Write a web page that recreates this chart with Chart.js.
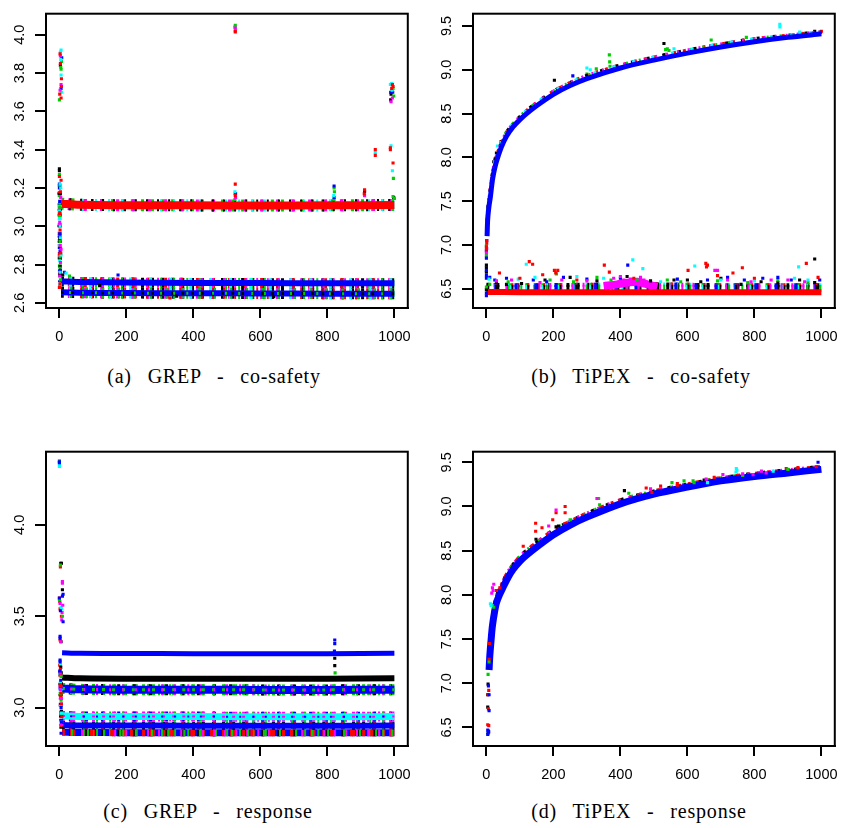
<!DOCTYPE html>
<html>
<head>
<meta charset="utf-8">
<script src="https://cdn.jsdelivr.net/npm/chart.js@4.4.1/dist/chart.umd.min.js"></script>
<style>
  body { margin: 0; background: #fff; width: 842px; height: 828px; position: relative; overflow: hidden; }
  .panel { position: absolute; width: 421px; height: 350px; }
  .cap { position: absolute; font-family: "Liberation Serif", "Times New Roman", serif; font-size: 20px;
         white-space: pre; transform: translateX(-50%); color: #000; letter-spacing: 0.8px; word-spacing: 10px; }
</style>
</head>
<body>
<div class="panel" style="left:0;top:0"><canvas id="ca" width="421" height="350"></canvas></div>
<div class="panel" style="left:427px;top:0"><canvas id="cb" width="421" height="350"></canvas></div>
<div class="panel" style="left:0;top:438px"><canvas id="cc" width="421" height="350"></canvas></div>
<div class="panel" style="left:427px;top:438px"><canvas id="cd" width="421" height="350"></canvas></div>
<div class="cap" style="left:214px;top:365px">(a) GREP - co-safety</div>
<div class="cap" style="left:641px;top:365px">(b) TiPEX - co-safety</div>
<div class="cap" style="left:208px;top:800px">(c) GREP - response</div>
<div class="cap" style="left:639px;top:800px">(d) TiPEX - response</div>
<script>
// ---- tick labels ----
const xTicks = [0, 200, 400, 600, 800, 1000];
const aYTicks = [2.6, 2.8, 3.0, 3.2, 3.4, 3.6, 3.8, 4.0];
const bYTicks = [6.5, 7.0, 7.5, 8.0, 8.5, 9.0, 9.5];
const cYTicks = [3.0, 3.5, 4.0];
const dYTicks = [6.5, 7.0, 7.5, 8.0, 8.5, 9.0, 9.5];

// ---- (a) GREP co-safety ----
const aBandX = [5, 60, 200, 400, 600, 800, 1000];
const aRedBandY = [3.118, 3.112, 3.110, 3.109, 3.108, 3.109, 3.111];
const aUpperBandY = [2.712, 2.709, 2.706, 2.704, 2.703, 2.702, 2.702];
const aLowerBandY = [2.655, 2.653, 2.651, 2.650, 2.649, 2.648, 2.648];
const aSpikeX = [1, 1, 2];
const aSpikeY = [3.22, 2.95, 2.68];

const aBlackX = [0, 0, 1, 2, 3, 3, 10, 525, 911, 990, 989, 998, 120, 350, 640];
const aBlackY = [3.30, 3.29, 2.93, 2.79, 2.75, 3.84, 2.745, 3.17, 3.18, 3.69, 3.66, 3.15, 2.69, 2.635, 2.632];
const aRedX = [2, 3, 6, 6, 1, 5, 0, 5, 3, 2, 4, 2, 1, 0, 525, 525, 525, 525, 911, 910, 943, 943, 994, 992, 996, 988, 988, 996, 330];
const aRedY = [3.90, 3.85, 3.77, 3.73, 3.69, 3.67, 3.26, 3.24, 3.18, 2.98, 2.86, 2.70, 3.07, 2.68, 4.02, 4.015, 3.22, 3.16, 3.19, 3.17, 3.40, 3.37, 3.74, 3.72, 3.73, 3.41, 3.40, 3.33, 2.625];
const aGreenX = [6, 4, 0, 5, 0, 1, 2, 1, 2, 3, 1, 2, 30, 525, 524, 524, 820, 821, 820, 996, 998, 993, 997, 996, 1000];
const aGreenY = [3.86, 3.83, 3.66, 3.82, 3.27, 3.05, 2.92, 3.12, 2.84, 2.72, 3.10, 2.78, 2.74, 4.05, 4.04, 3.14, 3.20, 3.18, 3.14, 3.72, 3.68, 3.71, 3.25, 3.155, 3.145];
const aBlueX = [7, 5, 0, 0, 2, 1, 3, 1, 15, 526, 820, 820, 995, 989, 175];
const aBlueY = [3.88, 3.72, 3.22, 3.20, 2.87, 2.96, 2.77, 3.13, 2.76, 3.17, 3.21, 3.15, 3.70, 3.70, 2.745];
const aCyanX = [5, 3, 4, 5, 7, 2, 4, 1, 2, 3, 5, 1, 0, 2, 20, 526, 524, 819, 943, 988, 992, 993, 990, 994];
const aCyanY = [3.92, 3.91, 3.87, 3.79, 3.70, 3.22, 3.20, 3.04, 3.00, 2.94, 2.85, 2.82, 3.08, 2.76, 2.755, 4.03, 3.18, 3.16, 3.385, 3.74, 3.745, 3.71, 3.42, 3.29];
const aMagX = [3, 5, 2, 4, 2, 3, 1, 5, 1, 525, 526, 911, 990, 994];
const aMagY = [3.89, 3.74, 3.71, 3.15, 2.90, 2.81, 2.74, 2.88, 3.02, 4.035, 3.15, 3.16, 3.65, 3.67];

// ---- (b) TiPEX co-safety ----
const bCurveX = [2, 4, 8, 12, 18, 25, 34, 45, 60, 80, 100, 120, 150, 200, 250, 300, 400, 500, 600, 700, 800, 900, 1000];
const bCurveY = [7.10, 7.30, 7.45, 7.55, 7.74, 7.88, 8.00, 8.12, 8.24, 8.35, 8.43, 8.50, 8.59, 8.72, 8.82, 8.90, 9.02, 9.11, 9.19, 9.26, 9.32, 9.37, 9.41];
const bUpperY = [7.16, 7.36, 7.51, 7.61, 7.79, 7.93, 8.05, 8.16, 8.28, 8.38, 8.46, 8.53, 8.62, 8.75, 8.85, 8.93, 9.05, 9.14, 9.22, 9.29, 9.35, 9.39, 9.43];
const bBandX = [0, 100, 300, 500, 700, 900, 1000];
const bFloorY = [6.463, 6.461, 6.460, 6.460, 6.460, 6.460, 6.461];
const bMixY = [6.505, 6.503, 6.505, 6.507, 6.505, 6.503, 6.503];
const bMix2Y = [6.545, 6.540, 6.545, 6.550, 6.540, 6.540, 6.540];
const bClumpX = [350, 390, 420, 450, 480, 510];
const bClumpY = [6.53, 6.55, 6.57, 6.58, 6.55, 6.52];

const bBlackX = [203, 530, 980, 26, 22, 44, 64, 30, 0, 0, 0, 0, 30, 60, 105, 175, 250, 330, 420, 490, 560, 600, 640, 700, 760, 820, 870, 935, 980, 980];
const bBlackY = [8.88, 9.30, 9.44, 7.98, 7.95, 8.18, 8.27, 8.05, 6.77, 6.74, 6.69, 6.49, 6.57, 6.55, 6.56, 6.60, 6.63, 6.59, 6.64, 6.59, 6.60, 6.60, 6.58, 6.62, 6.55, 6.58, 6.57, 6.60, 6.84, 6.57];
const bRedX = [1000, 998, 1, 1, 0, 0, 39, 100, 128, 138, 168, 203, 207, 213, 270, 352, 367, 440, 602, 655, 657, 660, 690, 736, 764, 800, 955, 990];
const bRedY = [9.44, 9.43, 7.02, 7.05, 6.98, 6.95, 6.68, 6.62, 6.81, 6.78, 6.66, 6.71, 6.68, 6.71, 6.60, 6.77, 6.69, 6.62, 6.71, 6.79, 6.75, 6.77, 6.65, 6.68, 6.74, 6.62, 6.79, 6.63];
const bGreenX = [328, 367, 368, 369, 535, 540, 545, 671, 776, 36, 40, 300, 0, 0, 0, 10, 65, 190, 209, 260, 330, 372, 450, 540, 580, 690, 780, 870, 960];
const bGreenY = [9.01, 9.17, 9.09, 9.04, 9.23, 9.24, 9.22, 9.34, 9.37, 8.07, 8.08, 8.95, 6.99, 6.88, 6.52, 6.55, 6.58, 6.60, 6.67, 6.58, 6.63, 6.60, 6.60, 6.60, 6.58, 6.59, 6.57, 6.60, 6.57];
const bBlueX = [258, 0, 0, 0, 0, 0, 0, 0, 1, 10, 25, 60, 140, 180, 230, 300, 400, 422, 570, 660, 720, 770, 825, 870, 910, 995];
const bBlueY = [8.93, 6.42, 6.45, 6.62, 6.65, 6.71, 6.85, 6.93, 7.05, 6.63, 6.60, 6.62, 6.60, 6.58, 6.63, 6.61, 6.62, 6.77, 6.61, 6.60, 6.63, 6.60, 6.62, 6.63, 6.60, 6.60];
const bCyanX = [300, 310, 560, 876, 876, 935, 940, 33, 8, 95, 119, 145, 270, 350, 437, 467, 520, 622, 700, 800, 920, 932, 960];
const bCyanY = [9.02, 9.00, 9.24, 9.52, 9.49, 9.43, 9.42, 8.13, 6.61, 6.61, 6.78, 6.63, 6.64, 6.62, 6.83, 6.73, 6.58, 6.76, 6.60, 6.59, 6.62, 6.75, 6.60];
const bMagX = [0, 1, 30, 75, 160, 225, 300, 380, 400, 410, 430, 460, 470, 682, 690, 720, 790, 850, 900, 950];
const bMagY = [6.91, 6.96, 6.59, 6.60, 6.57, 6.60, 6.59, 6.62, 6.64, 6.60, 6.61, 6.63, 6.60, 6.71, 6.71, 6.60, 6.58, 6.60, 6.60, 6.58];

// ---- (c) GREP response ----
const cBandX = [8, 60, 200, 400, 600, 800, 1000];
const cTopBlueBandY = [3.300, 3.297, 3.296, 3.295, 3.295, 3.295, 3.297];
const cBlackBandY = [3.165, 3.160, 3.158, 3.158, 3.158, 3.158, 3.160];
const cBlueBandY = [3.105, 3.100, 3.098, 3.098, 3.097, 3.097, 3.098];
const cCyanBandY = [2.955, 2.952, 2.951, 2.951, 2.950, 2.950, 2.951];
const cLowBlueBandY = [2.905, 2.902, 2.902, 2.901, 2.901, 2.901, 2.902];
const cMixBandY = [2.866, 2.864, 2.863, 2.863, 2.863, 2.863, 2.863];
const cSpikeX = [2, 4, 6];
const cSpikeY = [3.24, 3.05, 2.88];

const cBlackX = [4, 6, 9, 5, 4, 6, 6, 5, 822, 822];
const cBlackY = [3.79, 3.79, 3.645, 3.36, 3.22, 3.13, 2.98, 3.19, 3.27, 3.23];
const cRedX = [3, 0, 1, 6, 2, 2, 3, 4, 4, 5, 4, 6, 7];
const cRedY = [3.77, 3.60, 3.58, 3.50, 3.54, 3.37, 3.21, 3.18, 3.12, 3.08, 3.06, 3.02, 2.95];
const cGreenX = [0, 3, 0, 9, 5, 5, 823];
const cGreenY = [4.35, 3.78, 3.59, 3.50, 3.17, 3.04, 3.19];
const cBlueX = [0, 0, 11, 9, 0, 11, 3, 2, 2, 2, 2, 1, 4, 5, 6, 5, 822, 822, 821];
const cBlueY = [4.34, 4.345, 3.62, 3.61, 3.60, 3.47, 3.53, 3.39, 3.38, 3.26, 3.25, 3.20, 3.15, 3.00, 2.92, 2.86, 3.37, 3.35, 3.31];
const cCyanX = [0, 0, 5, 7, 3, 3, 6];
const cCyanY = [4.33, 4.32, 3.55, 3.54, 3.24, 3.14, 2.97];
const cMagX = [9, 9, 2, 10, 8, 7, 4, 2, 3, 6];
const cMagY = [3.69, 3.68, 3.57, 3.56, 3.52, 3.48, 3.36, 3.19, 3.10, 3.05];

// ---- (d) TiPEX response ----
const dCurveX = [8, 10, 12, 14, 18, 24, 30, 39, 49, 65, 80, 100, 120, 160, 200, 250, 300, 400, 500, 600, 700, 800, 900, 1000];
const dCurveY = [7.15, 7.30, 7.40, 7.49, 7.65, 7.80, 7.91, 8.00, 8.08, 8.20, 8.29, 8.38, 8.45, 8.57, 8.68, 8.79, 8.88, 9.03, 9.14, 9.22, 9.29, 9.34, 9.38, 9.42];
const dUpperY = [7.22, 7.37, 7.47, 7.56, 7.72, 7.87, 7.97, 8.06, 8.14, 8.26, 8.34, 8.43, 8.50, 8.62, 8.73, 8.83, 8.92, 9.07, 9.17, 9.25, 9.32, 9.37, 9.41, 9.45];

const dBlackX = [4, 4, 5, 7, 412, 650, 148, 208, 215];
const dBlackY = [6.73, 6.87, 6.99, 7.18, 9.18, 9.30, 8.63, 8.77, 8.78];
const dRedX = [4, 7, 6, 5, 7, 8, 9, 147, 147, 166, 198, 208, 235, 235, 477, 494, 520, 570, 570, 680, 895, 930, 985, 30, 40, 110];
const dRedY = [6.53, 6.52, 6.71, 6.87, 6.92, 7.27, 7.45, 8.81, 8.72, 8.76, 8.85, 8.93, 9.00, 8.93, 9.21, 9.16, 9.23, 9.26, 9.24, 9.33, 9.43, 9.44, 9.45, 8.05, 8.08, 8.55];
const dGreenX = [5, 5, 8, 335, 338, 425, 554, 590, 617, 620, 765, 900, 18, 22, 250];
const dGreenY = [6.43, 7.10, 7.24, 9.09, 9.02, 9.15, 9.27, 9.29, 9.29, 9.27, 9.35, 9.42, 7.88, 7.86, 8.85];
const dBlueX = [4, 5, 6, 4, 7, 8, 8, 6, 10, 990];
const dBlueY = [6.42, 6.44, 6.46, 6.47, 6.45, 6.69, 6.87, 6.97, 7.18, 9.50];
const dCyanX = [12, 14, 746, 748, 745, 856, 660];
const dCyanY = [7.90, 7.88, 9.43, 9.41, 9.39, 9.40, 9.27];
const dMagX = [16, 18, 22, 20, 186, 208, 330, 490, 656, 706, 796, 821, 835, 765];
const dMagY = [8.02, 8.08, 8.12, 8.05, 8.78, 8.96, 9.09, 9.20, 9.31, 9.36, 9.36, 9.40, 9.38, 9.37];

// ---- drawing helpers ----
const COL = { black: '#000000', red: '#ff0000', green: '#00cd00', blue: '#0000ff', cyan: '#00ffff', magenta: '#ff00ff' };
const DASHES = [[3, 7, 0], [2, 11, 5], [3, 13, 9], [2, 9, 3], [3, 17, 12], [2, 14, 7]];

function pts(xs, ys) { return xs.map((x, i) => ({ x: x, y: ys[i] })); }

function band(xs, ys, color, width) {
  return { data: pts(xs, ys), showLine: true, borderColor: color, borderWidth: width,
           pointRadius: 0, pointHoverRadius: 0, fill: false, tension: 0.3 };
}

// mottled band edge: several dashed strokes of mixed colours along the same row
function speckle(xs, ys, width, colors) {
  return colors.map((c, i) => {
    const d = DASHES[i % DASHES.length];
    return { data: pts(xs, ys), showLine: true, borderColor: COL[c], borderWidth: width,
             borderDash: [d[0], d[1]], borderDashOffset: d[2], borderCapStyle: 'butt',
             pointRadius: 0, pointHoverRadius: 0, fill: false, tension: 0.3 };
  });
}

function dots(xs, ys, color) {
  return { data: pts(xs, ys), showLine: false, backgroundColor: color, borderWidth: 0,
           pointStyle: 'rect', pointRadius: 2.2, pointHoverRadius: 2.2 };
}

const boxPlugin = {
  id: 'box',
  afterDraw(chart) {
    const a = chart.chartArea, c = chart.ctx;
    c.save();
    c.strokeStyle = '#000';
    c.lineWidth = 2;
    c.strokeRect(a.left, a.top, a.right - a.left, a.bottom - a.top);
    c.restore();
  }
};

const tickFont = { family: '"Liberation Sans", Arial, sans-serif', size: 14.5 };

function makePanel(id, yMin, yMax, yTicks, layers) {
  // layers are listed in paint order: first painted first
  layers.forEach((ds, i) => { ds.order = layers.length - i; });
  new Chart(document.getElementById(id), {
    type: 'scatter',
    data: { datasets: layers },
    options: {
      responsive: false,
      animation: false,
      devicePixelRatio: 1,
      events: [],
      layout: { padding: { top: 5, right: 13, left: 0, bottom: 0 } },
      plugins: { legend: { display: false }, tooltip: { enabled: false } },
      scales: {
        x: {
          type: 'linear', min: -40, max: 1040,
          afterBuildTicks: s => { s.ticks = xTicks.map(v => ({ value: v })); },
          afterFit: s => { s.height = 42; },
          grid: { drawOnChartArea: false, drawTicks: true, tickLength: 10, color: '#000', lineWidth: 2 },
          border: { display: true, color: '#000', width: 2 },
          ticks: { color: '#000', font: tickFont, padding: 10, autoSkip: false, maxRotation: 0,
                   callback: v => String(v) }
        },
        y: {
          type: 'linear', min: yMin, max: yMax,
          afterBuildTicks: s => { s.ticks = yTicks.map(v => ({ value: v })); },
          afterFit: s => { s.width = 46; },
          grid: { drawOnChartArea: false, drawTicks: true, tickLength: 11, color: '#000', lineWidth: 2 },
          border: { display: true, color: '#000', width: 2 },
          ticks: { color: '#000', font: tickFont, padding: 5, autoSkip: false, minRotation: 90, maxRotation: 90,
                   crossAlign: 'center', callback: v => v.toFixed(1) }
        }
      }
    },
    plugins: [boxPlugin]
  });
}

// (a)
makePanel('ca', 2.573, 4.11, aYTicks, [
  ...speckle(aBandX, aLowerBandY, 11, ['black', 'green', 'magenta', 'red', 'cyan', 'green']),
  band(aBandX, aLowerBandY, COL.blue, 6),
  ...speckle(aBandX, aLowerBandY, 3, ['black', 'green']),
  ...speckle(aBandX, aUpperBandY, 10, ['black', 'green', 'red', 'magenta', 'cyan']),
  band(aBandX, aUpperBandY, COL.blue, 6),
  ...speckle(aBandX, aRedBandY, 12, ['green', 'cyan', 'magenta', 'black']),
  band(aBandX, aRedBandY, COL.red, 8),
  ...speckle(aSpikeX, aSpikeY, 4, ['green', 'cyan', 'magenta', 'blue', 'red', 'black']),
  dots(aBlackX, aBlackY, COL.black),
  dots(aGreenX, aGreenY, COL.green),
  dots(aBlueX, aBlueY, COL.blue),
  dots(aCyanX, aCyanY, COL.cyan),
  dots(aMagX, aMagY, COL.magenta),
  dots(aRedX, aRedY, COL.red)
]);

// (b)
makePanel('cb', 6.28, 9.64, bYTicks, [
  ...speckle(bBandX, bMix2Y, 4, ['black', 'cyan', 'green', 'magenta', 'blue', 'red']),
  ...speckle(bBandX, bMixY, 7, ['black', 'green', 'cyan', 'magenta', 'blue', 'black']),
  band(bClumpX, bClumpY, COL.magenta, 8),
  band(bBandX, bFloorY, COL.red, 6),
  dots(bBlackX, bBlackY, COL.black),
  dots(bGreenX, bGreenY, COL.green),
  dots(bBlueX, bBlueY, COL.blue),
  dots(bCyanX, bCyanY, COL.cyan),
  dots(bMagX, bMagY, COL.magenta),
  dots(bRedX, bRedY, COL.red),
  ...speckle(bCurveX, bUpperY, 4, ['red', 'green', 'black', 'magenta', 'cyan']),
  band(bCurveX, bCurveY, COL.blue, 5)
]);

// (c)
makePanel('cc', 2.79, 4.40, cYTicks, [
  band(cBandX, cMixBandY, COL.blue, 7),
  ...speckle(cBandX, cMixBandY, 7, ['red', 'green', 'black', 'magenta', 'red', 'green']),
  ...speckle(cBandX, cLowBlueBandY, 8, ['black', 'green', 'red']),
  band(cBandX, cLowBlueBandY, COL.blue, 6),
  ...speckle(cBandX, cCyanBandY, 10, ['magenta', 'green', 'blue', 'magenta']),
  band(cBandX, cCyanBandY, COL.cyan, 7),
  ...speckle(cBandX, cCyanBandY, 2, ['magenta', 'blue']),
  ...speckle(cBandX, cBlueBandY, 11, ['green', 'magenta', 'black', 'green']),
  band(cBandX, cBlueBandY, COL.blue, 8),
  ...speckle(cBandX, cBlueBandY, 3, ['green', 'magenta']),
  band(cBandX, cBlackBandY, COL.black, 6),
  band(cBandX, cTopBlueBandY, COL.blue, 5),
  ...speckle(cSpikeX, cSpikeY, 4, ['red', 'magenta', 'blue', 'black', 'green', 'cyan']),
  dots(cBlackX, cBlackY, COL.black),
  dots(cRedX, cRedY, COL.red),
  dots(cGreenX, cGreenY, COL.green),
  dots(cCyanX, cCyanY, COL.cyan),
  dots(cMagX, cMagY, COL.magenta),
  dots(cBlueX, cBlueY, COL.blue)
]);

// (d)
makePanel('cd', 6.29, 9.62, dYTicks, [
  ...speckle(dCurveX, dUpperY, 4, ['red', 'green', 'black', 'magenta', 'red']),
  band(dCurveX, dCurveY, COL.blue, 7),
  dots(dBlackX, dBlackY, COL.black),
  dots(dRedX, dRedY, COL.red),
  dots(dGreenX, dGreenY, COL.green),
  dots(dCyanX, dCyanY, COL.cyan),
  dots(dMagX, dMagY, COL.magenta),
  dots(dBlueX, dBlueY, COL.blue)
]);
</script>
</body>
</html>
